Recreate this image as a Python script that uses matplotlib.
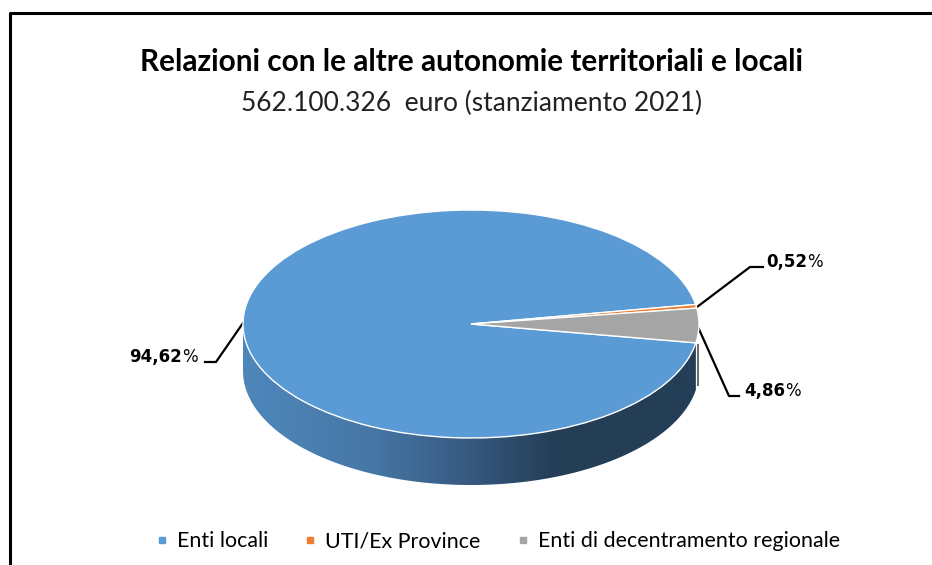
import numpy as np
import matplotlib
matplotlib.use("Agg")
import matplotlib.pyplot as plt
from matplotlib.colors import LinearSegmentedColormap
from matplotlib.lines import Line2D
from matplotlib.patches import Polygon

# =========================
# DATA
# =========================

categories = ["Enti locali", "UTI/Ex Province", "Enti di decentramento regionale"]
values = [94.62, 0.52, 4.86]
labels = ["94,62", "0,52", "4,86"]
colors = ["#5B9BD5", "#ED7D31", "#A5A5A5"]

title = "Relazioni con le altre autonomie territoriali e locali"
subtitle = "562.100.326  euro (stanziamento 2021)"

W, H = 932, 565
START = -9.5

CX, CY = 471, 324
RX, RY = 228, 114
DEPTH = 47

fig = plt.figure(figsize=(W / 100, H / 100), dpi=100)

# pixel coordinates for everything but the pie top
bg = fig.add_axes([0, 0, 1, 1])
bg.set_xlim(0, W)
bg.set_ylim(H, 0)
bg.axis("off")

# frame
bg.plot([9.5, 9.5, W], [H, 12.5, 12.5], color="black", lw=2.2, solid_capstyle="butt")

# side wall of the pie
theta = np.radians(np.linspace(180, 360 + START, 200))
x_wall = CX + RX * np.cos(theta)
y_wall = CY - RY * np.sin(theta)
wall = np.column_stack([
    np.r_[x_wall, x_wall[::-1]],
    np.r_[y_wall, y_wall[::-1] + DEPTH],
])
patch = Polygon(wall, closed=True, facecolor="none", edgecolor="none")
bg.add_patch(patch)
cmap = LinearSegmentedColormap.from_list(
    "wall",
    [(0, "#4F87BB"), (0.28, "#4677A6"), (0.5, "#36597F"), (0.68, "#243E57"), (1, "#243E57")],
)
img = bg.imshow(
    np.linspace(0, 1, 256).reshape(1, -1),
    extent=[CX - RX, CX + RX, CY + RY + DEPTH, CY],
    cmap=cmap, aspect="auto", zorder=2,
)
img.set_clip_path(patch)
bg.set_xlim(0, W)
bg.set_ylim(H, 0)

# gray slice keeps a thin strip of its own wall
bg.plot([CX + RX - 1, CX + RX - 1], [345, 385], color="#707070", lw=1.5, zorder=3)

# pie top, flattened by the axes box
pie_ax = fig.add_axes([(CX - RX) / W, 1 - (CY + RY) / H, 2 * RX / W, 2 * RY / H])
pie_ax.pie(
    values,
    colors=colors,
    startangle=START,
    counterclock=False,
    radius=1,
    wedgeprops={"edgecolor": "white", "linewidth": 1.0},
)
pie_ax.set_aspect("auto")
pie_ax.set_xlim(-1, 1)
pie_ax.set_ylim(-1, 1)
pie_ax.patch.set_alpha(0)

# titles
bg.text(471.5, 62, title, family="Lato", weight="bold", fontsize=21.4,
        ha="center", va="center", color="black")
bg.text(471.5, 103, subtitle, family="Lato", fontsize=19,
        ha="center", va="center", color="#222222")

# data labels with leader lines
leaders = [
    ([243, 216, 205], [323, 362, 362]),
    ([697, 750, 763], [307, 267, 267]),
    ([698, 729, 739], [327, 396, 396]),
]
label_pos = [(129, 357), (766, 262), (744, 391)]
for (lx, ly), txt, (px, py) in zip(leaders, labels, label_pos):
    bg.plot(lx, ly, color="black", lw=1.6, zorder=4)
    t = bg.text(px, py, txt, family="DejaVu Sans", weight="bold", fontsize=12,
                ha="left", va="center", color="black")
    bg.annotate("%", xy=(1, 0.5), xycoords=t, va="center", ha="left",
                family="DejaVu Sans", fontsize=12, color="black")

# legend
handles = [Line2D([], [], marker="s", ls="none", color=c, markersize=5) for c in colors]
bg.legend(
    handles, categories,
    loc="center", bbox_to_anchor=(498 / W, 1 - 541 / H),
    ncol=3, frameon=False, handlelength=0.5, handletextpad=0.45, columnspacing=1.72,
    prop={"family": "Lato", "size": 15.4},
)

fig.savefig("out.png", dpi=100)
